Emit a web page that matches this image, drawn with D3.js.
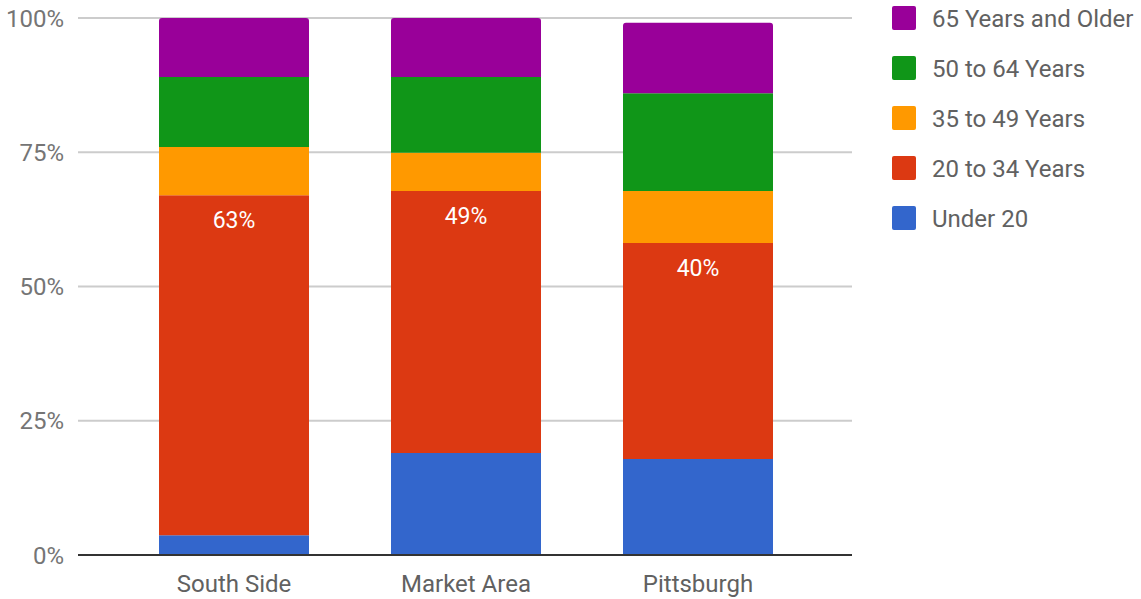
<!DOCTYPE html>
<html><head><meta charset="utf-8">
<script src="https://cdn.jsdelivr.net/npm/d3@7"></script>
<style>body{margin:0;background:#fff}svg{display:block;font-family:Roboto,"Noto Sans",sans-serif}</style>
</head><body><svg id="c" width="1141" height="599"></svg>
<script>
const categories = ["South Side", "Market Area", "Pittsburgh"];
const seriesNames = ["Under 20", "20 to 34 Years", "35 to 49 Years", "50 to 64 Years", "65 Years and Older"];
const under20 = [3.7, 19, 17.9];
const age20to34 = [63.3, 48.8, 40.2];
const age35to49 = [9, 7.1, 9.7];
const age50to64 = [13, 14.1, 18.2];
const age65plus = [11, 11, 13.1];
const labels20to34 = ["63%", "49%", "40%"];
const yTicks = [0, 25, 50, 75, 100];
const colors = ["#3366cc", "#dc3912", "#ff9900", "#109618", "#990099"];

const seriesVals = [under20, age20to34, age35to49, age50to64, age65plus];
const rows = categories.map((c, i) => {
  const r = {cat: c};
  seriesNames.forEach((s, j) => r[s] = seriesVals[j][i]);
  return r;
});
const stacked = d3.stack().keys(seriesNames)(rows);

const svg = d3.select("#c");
const y = d3.scaleLinear().domain([0, 100]).range([555, 18]);
const x = d3.scaleBand().domain(categories).range([118, 814])
  .paddingInner(82/232).paddingOuter(41/232);

// gridlines
svg.append("g").selectAll("line").data(yTicks.filter(t => t > 0)).join("line")
  .attr("x1", 78).attr("x2", 852)
  .attr("y1", d => y(d)).attr("y2", d => y(d))
  .attr("stroke", "#cccccc").attr("stroke-width", 2);

// y labels
svg.append("g").selectAll("text").data(yTicks).join("text")
  .attr("x", 64).attr("y", d => y(d)).attr("dy", "0.36em")
  .attr("text-anchor", "end").attr("fill", "#757575").attr("font-size", 24)
  .text(d => d + "%");

// bars
stacked.forEach((layer, li) => {
  const isTop = li === stacked.length - 1;
  svg.append("g").selectAll("path").data(layer).join("path")
    .attr("fill", colors[li])
    .attr("d", d => {
      const x0 = x(d.data.cat), w = x.bandwidth();
      const yt = y(d[1]), yb = y(d[0]);
      const r = isTop ? 3 : 0;
      return `M${x0},${yb}V${yt + r}Q${x0},${yt} ${x0 + r},${yt}H${x0 + w - r}Q${x0 + w},${yt} ${x0 + w},${yt + r}V${yb}Z`;
    });
});

// value labels on 20-34 segment
svg.append("g").selectAll("text").data(stacked[1]).join("text")
  .attr("x", d => x(d.data.cat) + x.bandwidth() / 2)
  .attr("y", d => y(d[1]) + 33)
  .attr("text-anchor", "middle").attr("fill", "#ffffff").attr("font-size", 23)
  .text((d, i) => labels20to34[i]);

// baseline
svg.append("line").attr("x1", 78).attr("x2", 852).attr("y1", y(0)).attr("y2", y(0))
  .attr("stroke", "#333333").attr("stroke-width", 2);

// x labels
svg.append("g").selectAll("text").data(categories).join("text")
  .attr("x", d => x(d) + x.bandwidth() / 2).attr("y", 592)
  .attr("text-anchor", "middle").attr("fill", "#616161").attr("font-size", 24)
  .text(d => d);

// legend
const legendOrder = seriesNames.map((s, i) => ({s, c: colors[i]})).reverse();
const lg = svg.append("g").selectAll("g").data(legendOrder).join("g")
  .attr("transform", (d, i) => `translate(892,${18 + i * 50})`);
lg.append("rect").attr("x", 0).attr("y", -12).attr("width", 24).attr("height", 24)
  .attr("rx", 2).attr("fill", d => d.c);
lg.append("text").attr("x", 40).attr("y", 0).attr("dy", "0.36em")
  .attr("fill", "#616161").attr("font-size", 24).text(d => d.s);
</script></body></html>
